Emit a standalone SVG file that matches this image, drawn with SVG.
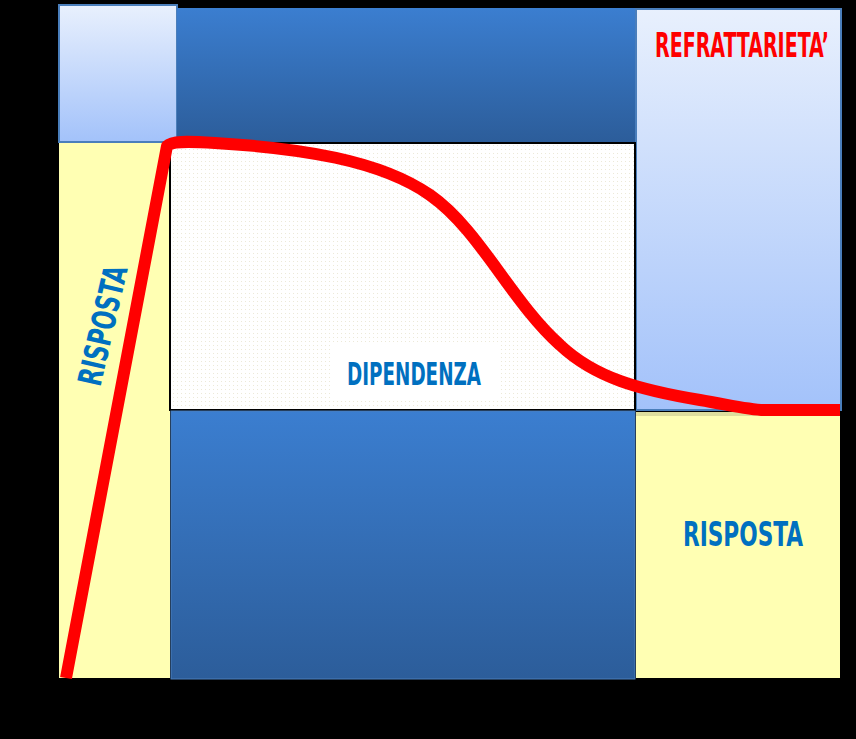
<svg xmlns="http://www.w3.org/2000/svg" width="856" height="739" viewBox="0 0 856 739">
<style>
.lb{fill:url(#lbg);stroke:#4a7ebb;stroke-width:2}
.db{fill:url(#dbg)}
.yl{fill:#ffffb3}
.lbl{font-family:"DejaVu Sans Condensed","Liberation Sans",sans-serif;font-weight:bold;fill:#0070c0}
</style>
<defs>
<linearGradient id="lbg" x1="0" y1="0" x2="0" y2="1">
<stop offset="0" stop-color="#e8f0fd"/>
<stop offset="1" stop-color="#a3c2fa"/>
</linearGradient>
<linearGradient id="dbg" x1="0" y1="0" x2="0" y2="1">
<stop offset="0" stop-color="#3b7ed0"/>
<stop offset="1" stop-color="#2c5d9a"/>
</linearGradient>
<pattern id="dots" width="4" height="4" patternUnits="userSpaceOnUse">
<rect width="4" height="4" fill="#ffffff"/>
<rect x="1" y="1" width="1" height="1" fill="#ece9d8"/>
</pattern>
</defs>
<rect width="856" height="739" fill="#000"/>
<g id="node-topleft"><rect class="lb" x="59" y="5" width="118" height="137"/></g>
<g id="node-topblue"><rect class="db" x="177" y="8" width="458" height="134"/></g>
<g id="node-refrattarieta">
<rect class="lb" x="636" y="9" width="205" height="401"/>
<text transform="translate(655,57) scale(1,1.5)" font-family="'DejaVu Sans Condensed','Liberation Sans',sans-serif" font-weight="bold" font-size="22" fill="#ff0000" textLength="174" lengthAdjust="spacingAndGlyphs">REFRATTARIETA’</text>
</g>
<g id="node-risposta-left">
<rect class="yl" x="59" y="143" width="111" height="535"/>
<text class="lbl" font-size="33" text-anchor="middle" transform="translate(114,328) rotate(-77)" textLength="122" lengthAdjust="spacingAndGlyphs">RISPOSTA</text>
</g>
<g id="node-dipendenza">
<rect x="170" y="143" width="465" height="267" fill="url(#dots)" stroke="#000" stroke-width="2"/>
<rect x="331" y="345" width="170" height="53" fill="#fff"/>
<text class="lbl" x="347" y="385" font-size="32" textLength="134" lengthAdjust="spacingAndGlyphs">DIPENDENZA</text>
</g>
<g id="node-bottomblue"><rect class="db" x="171" y="411" width="464" height="268" stroke="#4a7ebb" stroke-width="1"/></g>
<g id="node-risposta-right">
<rect class="yl" x="636" y="412" width="204" height="266"/>
<rect x="636" y="412" width="204" height="4" fill="#c8c890" opacity="0.6"/>
<text class="lbl" x="683" y="546" font-size="33" textLength="120" lengthAdjust="spacingAndGlyphs">RISPOSTA</text>
</g>
<g id="connectors">
<path d="M66,678 L167,146 C172,141 185,141 215,143 C300,148 380,160 430,195 C480,230 510,300 560,345 C595,378 640,390 700,400 C730,405 750,410 765,410 L840,410" fill="none" stroke="#ff0000" stroke-width="12" stroke-linejoin="round"/>
</g>
</svg>
